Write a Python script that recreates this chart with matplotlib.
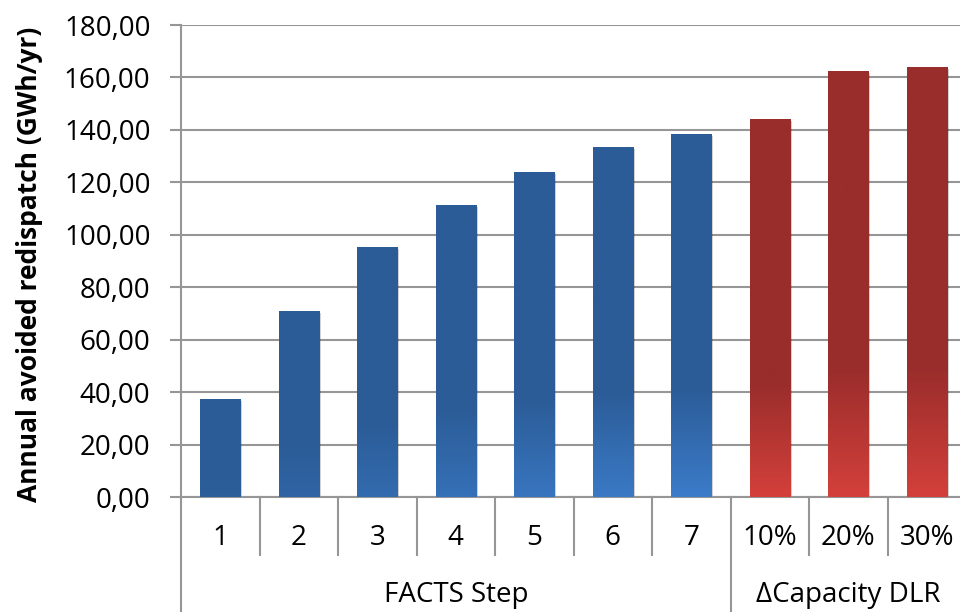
import matplotlib
matplotlib.use("Agg")
import matplotlib.pyplot as plt
import numpy as np
from matplotlib import patheffects as pe
from matplotlib.colors import to_rgb

categories = ["1", "2", "3", "4", "5", "6", "7", "10%", "20%", "30%"]
values = [37.4, 70.9, 95.3, 111.4, 123.9, 133.5, 138.4, 144.2, 162.5, 164.0]
groups = ["FACTS Step", "FACTS Step", "FACTS Step", "FACTS Step", "FACTS Step",
          "FACTS Step", "FACTS Step", "\u0394Capacity DLR", "\u0394Capacity DLR", "\u0394Capacity DLR"]
yticks = [0, 20, 40, 60, 80, 100, 120, 140, 160, 180]

plt.rcParams['font.family'] = ['Open Sans', 'DejaVu Sans']
FS = 20

fig = plt.figure(figsize=(9.6, 6.12), dpi=100)
ax = fig.add_axes([181/960, 115/612, 785/960, 472/612])
ax.set_xlim(-0.5, len(categories) - 0.5)
ax.set_ylim(0, 180)

grid_c = "#969696"
ax.set_yticks(yticks)
ax.set_yticklabels([f"{v:.2f}".replace(".", ",") for v in yticks], fontsize=FS)
ax.yaxis.grid(True, color=grid_c, linewidth=1.5, zorder=0)
ax.set_axisbelow(True)
ax.tick_params(axis='y', length=8, width=1.5, color=grid_c, pad=14)
ax.tick_params(axis='x', length=0, labelbottom=False)
for s in ["top", "right"]:
    ax.spines[s].set_visible(False)
ax.spines["left"].set_color(grid_c)
ax.spines["left"].set_linewidth(1.5)
ax.spines["bottom"].set_color(grid_c)
ax.spines["bottom"].set_linewidth(1.5)

palette = {
    "FACTS Step": ("#2B5C97", "#3C7CCA"),
    "\u0394Capacity DLR": ("#992D2B", "#D3403B"),
}

x = np.arange(len(categories))
bw = 0.51
for xi, v, g in zip(x, values, groups):
    dark, light = palette[g]
    bars = ax.bar(xi, v, width=bw, color=dark, zorder=2, linewidth=0)
    rect = bars[0]
    rect.set_path_effects([pe.SimplePatchShadow(offset=(1.5, -1.5), alpha=0.18, shadow_rgbFace="k"), pe.Normal()])
    n = 200
    t = np.linspace(0, 1, n)
    strength = min(1.0, v / 140.0) ** 2
    w = np.clip((0.3 - t) / 0.3, 0, 1) * strength
    d = np.array(to_rgb(dark)); l = np.array(to_rgb(light))
    cols = d[None, :] * (1 - w[:, None]) + l[None, :] * w[:, None]
    img = cols[:, None, :]
    im = ax.imshow(img, extent=[xi - bw/2, xi + bw/2, 0, v], origin="lower",
                   aspect="auto", zorder=3, interpolation="bilinear")
    im.set_clip_path(rect)
ax.set_xlim(-0.5, len(categories) - 0.5)
ax.set_ylim(0, 180)

trans = ax.get_xaxis_transform()
h_cat = (555 - 497) / 472
h_grp = (612 - 497) / 472
for xi, c in zip(x, categories):
    ax.text(xi, -(538 - 497) / 472, c, transform=trans, ha="center", va="center",
            fontsize=FS, clip_on=False)
for k in range(len(categories) + 1):
    xb = k - 0.5
    if k == 0 or k == len(categories) or groups[k] != groups[k - 1]:
        depth = h_grp
    else:
        depth = h_cat
    ax.plot([xb, xb], [0, -depth], transform=trans, color=grid_c, lw=1.5, clip_on=False)

uniq = []
for i, g in enumerate(groups):
    if not uniq or uniq[-1][0] != g:
        uniq.append([g, i, i])
    else:
        uniq[-1][2] = i
for g, i0, i1 in uniq:
    ax.text((i0 + i1) / 2, -(595 - 497) / 472, g, transform=trans, ha="center",
            va="center", fontsize=FS, clip_on=False)

fig.text(30/960, 1 - 264/612, "Annual avoided redispatch (GWh/yr)", rotation=90,
         ha="center", va="center", fontsize=19, fontweight="bold")

fig.savefig("out.png", dpi=100)
